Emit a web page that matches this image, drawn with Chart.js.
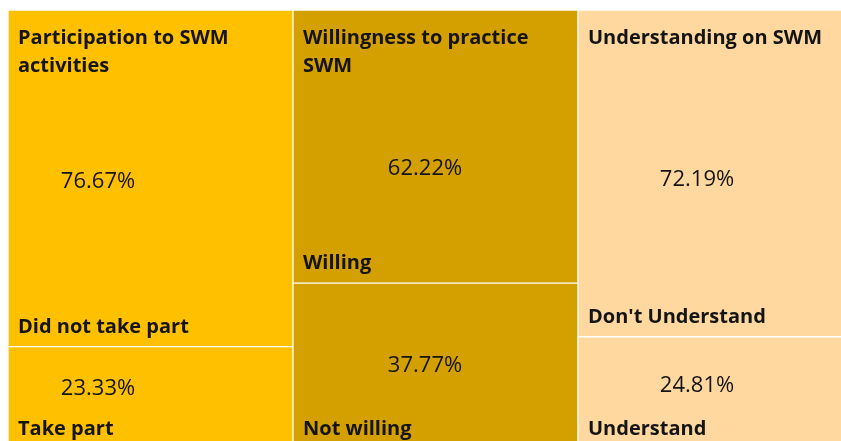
<!DOCTYPE html>
<html>
<head>
<meta charset="utf-8">
<script src="https://cdn.jsdelivr.net/npm/chart.js@4/dist/chart.umd.min.js"></script>
<style>
  html, body { margin: 0; padding: 0; background: #fff; overflow: hidden; }
  #wrap { width: 863px; height: 449px; }
</style>
</head>
<body>
<div id="wrap"><canvas id="chart" width="863" height="449"></canvas></div>
<script>
// treemap groups (one column each)
const groups = ['Participation to SWM activities', 'Willingness to practice SWM', 'Understanding on SWM'];
const topLabels = ['Did not take part', 'Willing', "Don't Understand"];
const topValues = [76.67, 62.22, 72.19];
const bottomLabels = ['Take part', 'Not willing', 'Understand'];
const bottomValues = [23.33, 37.77, 24.81];
const groupColors = ['#FFC000', '#D4A000', '#FFD8A0'];

// where the value text sits inside each cell (x from cell left, y as share of cell height)
const valueOffsetX = [90, 132, 119];
const valueOffsetY = [[0.41, 0.5, 0.44], [0.51, 0.58, 0.52]];

const FONT = '"Open Sans", Lato, sans-serif';

// each column fills the full height, cells share it by value
const share = (vals, i) => vals[i] / (topValues[i] + bottomValues[i]) * 100;

const wrapText = (ctx, text, maxW) => {
    const words = text.split(' ');
    let lines = [], cur = '';
    words.forEach(w => {
        const t = cur ? cur + ' ' + w : w;
        if (ctx.measureText(t).width > maxW && cur) {
            lines.push(cur);
            cur = w;
        } else {
            cur = t;
        }
    });
    if (cur) lines.push(cur);
    return lines;
};

const treeLabels = {
    id: 'treeLabels',
    afterDatasetsDraw(chart) {
        const ctx = chart.ctx;
        ctx.save();
        ctx.fillStyle = '#141414';
        [bottomValues, topValues].forEach((vals, d) => {
            const names = d === 0 ? bottomLabels : topLabels;
            chart.getDatasetMeta(d).data.forEach((bar, i) => {
                const p = bar.getProps(['x', 'y', 'base', 'width'], true);
                const left = p.x - p.width / 2;
                const top = Math.min(p.y, p.base);
                const bottom = Math.max(p.y, p.base);

                // group header in the top cell
                if (d === 1) {
                    ctx.font = 'bold 20px ' + FONT;
                    ctx.textAlign = 'left';
                    ctx.textBaseline = 'alphabetic';
                    wrapText(ctx, groups[i], p.width - 24).forEach((ln, k) => {
                        ctx.fillText(ln, left + 10, top + 34 + k * 28);
                    });
                }

                // value
                ctx.font = '22px ' + FONT;
                ctx.textAlign = 'center';
                ctx.textBaseline = 'middle';
                ctx.fillText(vals[i].toFixed(2) + '%', left + valueOffsetX[i], top + (bottom - top) * valueOffsetY[d][i]);

                // item name at the bottom of the cell
                ctx.font = 'bold 20px ' + FONT;
                ctx.textAlign = 'left';
                ctx.textBaseline = 'alphabetic';
                ctx.fillText(names[i], left + 10, bottom - 14);
            });
        });
        ctx.restore();
    }
};

new Chart(document.getElementById('chart'), {
    type: 'bar',
    data: {
        labels: groups,
        datasets: [{
            label: 'bottom',
            data: bottomValues.map((v, i) => share(bottomValues, i)),
            backgroundColor: groupColors,
            borderColor: '#ffffff',
            borderWidth: 1,
            borderSkipped: false
        }, {
            label: 'top',
            data: topValues.map((v, i) => share(topValues, i)),
            backgroundColor: groupColors,
            borderColor: '#ffffff',
            borderWidth: 1,
            borderSkipped: false
        }]
    },
    options: {
        responsive: false,
        animation: false,
        layout: { padding: { left: 8, top: 10, right: 0, bottom: 0 } },
        datasets: { bar: { categoryPercentage: 1, barPercentage: 1 } },
        scales: {
            x: { stacked: true, display: false },
            y: { stacked: true, display: false, min: 0, max: 100 }
        },
        plugins: {
            legend: { display: false },
            tooltip: { enabled: false }
        }
    },
    plugins: [treeLabels]
});
</script>
</body>
</html>
